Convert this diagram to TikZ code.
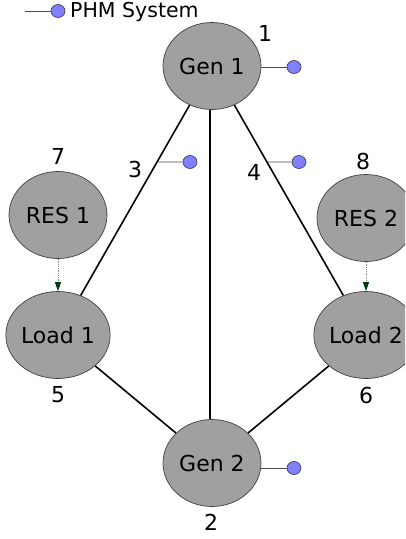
\documentclass[tikz,border=0pt]{standalone}
\usepackage{fontspec}
\setmainfont{DejaVu Sans}
\usetikzlibrary{shapes.geometric,arrows.meta,calc}
\definecolor{nodegray}{HTML}{A0A0A0}
\definecolor{phmblue}{HTML}{8080FF}
\definecolor{tipgreen}{HTML}{003A10}
\begin{document}
\begin{tikzpicture}[x=1pt,y=-1pt,
  bus/.style={ellipse, draw=black!75, line width=0.7pt, fill=nodegray,
    minimum width=98pt, minimum height=87pt, inner sep=0pt,
    font=\fontsize{22}{26}\selectfont},
  num/.style={font=\fontsize{22}{26}\selectfont, inner sep=0pt},
  link/.style={line width=1.6pt, black},
  phm/.style={ellipse, draw=black!80, line width=0.6pt, fill=phmblue,
    minimum width=14pt, minimum height=13pt, inner sep=0pt},
  phmlink/.style={line width=0.8pt, black!70},
  dep/.style={densely dotted, black!45, line width=0.8pt,
    -{Triangle[length=9pt,width=6pt,color=tipgreen,fill=tipgreen]}}
]
\useasboundingbox (0,0) rectangle (405,539);
\clip (0,0) rectangle (405,539);

% legend
\coordinate (lg) at (25,11);
\node[phm] (lgdot) at (58,11) {};
\draw[phmlink] (lg) -- (lgdot);
\node[anchor=base west, inner sep=0pt, font=\fontsize{20.5}{24}\selectfont] (lgtxt) at (70,17) {PHM System};

% buses
\node[bus] (g1) at (212,66) {Gen 1};
\node[bus] (g2) at (212,463) {Gen 2};
\node[bus] (r1) at (58,215) {RES 1};
\node[bus] (r2) at (366,218) {RES 2};
\node[bus] (l1) at (58,335) {Load 1};
\node[bus] (l2) at (366,335) {Load 2};

% lines
\draw[link] (g1) -- (l1);
\draw[link] (g1) -- (l2);
\draw[link] ([xshift=-2pt]g1.south) -- ([xshift=-2pt]g2.north);
\draw[link] (l1) -- (g2);
\draw[link] (l2) -- (g2);

% dependencies
\draw[dep] (r1) -- (l1);
\draw[dep] (r2) -- (l2);

% PHM systems
\node[phm] (d1) at (294,67) {};
\draw[phmlink] (d1 -| g1.east) -- (d1);
\node[phm] (d2) at (294,468) {};
\draw[phmlink] (d2 -| g2.east) -- (d2);
\coordinate (p3) at ($(g1)!0.357!(l1)$);
\node[phm] (d3) at (190,162) {};
\draw[phmlink] (p3) -- (d3);
\coordinate (p4) at ($(g1)!0.357!(l2)$);
\node[phm] (d4) at (299,162) {};
\draw[phmlink] (p4) -- (d4);

% numbers
\node[num] (n1) at (265,33) {1};
\node[num] (n2) at (211,522) {2};
\node[num] (n3) at (135,169) {3};
\node[num] (n4) at (254,172) {4};
\node[num] (n5) at (58,395) {5};
\node[num] (n6) at (366,395) {6};
\node[num] (n7) at (58,156) {7};
\node[num] (n8) at (363,161) {8};
\end{tikzpicture}
\end{document}
